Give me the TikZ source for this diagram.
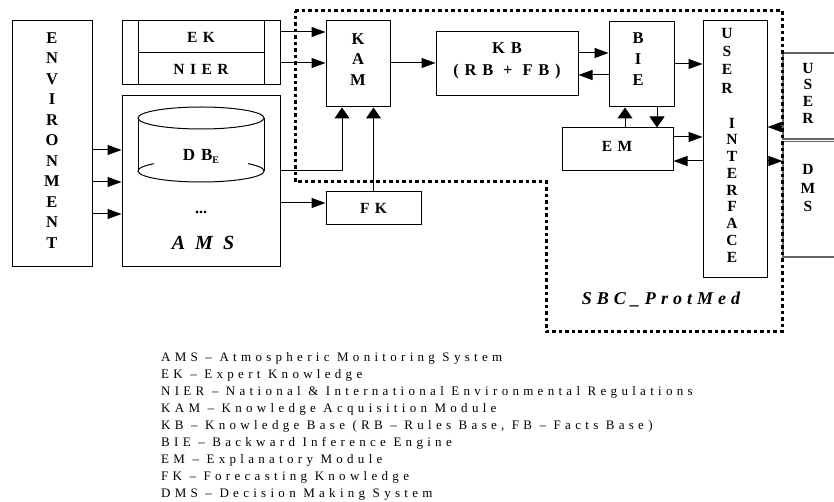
\documentclass[tikz,border=0pt]{standalone}
\usepackage{fontspec}
\setmainfont{Liberation Serif}
\newfontfamily\lsfont[LetterSpace=35]{Liberation Serif}
\newfontfamily\legfont[LetterSpace=33]{Liberation Serif}
\newfontfamily\amsfont[LetterSpace=50]{Liberation Serif}
\newfontfamily\sbcfont[LetterSpace=28]{Liberation Serif}
\usetikzlibrary{arrows.meta,fit,calc}
\tikzset{
  box/.style={draw, line width=1pt, inner sep=0pt},
  gbox/.style={draw=black!60, line width=1.2pt, inner sep=0pt},
  lbl/.style={inner sep=0pt, font={\lsfont\bfseries\fontsize{15.5}{18}\selectfont}},
  stack/.style={inner sep=0pt, align=center, font={\bfseries\fontsize{16.5}{#1}\selectfont}},
  sstack/.style={inner sep=0pt, align=center, font={\bfseries\fontsize{15.5}{#1}\selectfont}},
  ha/.style={-{Triangle[length=14pt,width=10pt]}, line width=1pt},
  va/.style={-{Triangle[length=11pt,width=15pt]}, line width=1pt},
  plain/.style={line width=1pt},
  frame/.style={line width=3pt, dash pattern=on 3.5pt off 3pt},
  leg/.style={inner sep=0pt, anchor=base west, font={\legfont\fontsize{13}{15}\selectfont}}
}
\begin{document}
\begin{tikzpicture}[x=1pt,y=-1pt]
\useasboundingbox (0,0) rectangle (834,502);
\clip (0,0) rectangle (834,502);
% rows and columns
\coordinate (yE1) at (0,150); \coordinate (yE2) at (0,182); \coordinate (yE3) at (0,214);
\coordinate (yEK) at (0,32); \coordinate (yNI) at (0,63);
\coordinate (yDB) at (0,171); \coordinate (yFK) at (0,203);
\coordinate (xA) at (342,0);
\coordinate (yKB1) at (0,53); \coordinate (yKB2) at (0,75);
\coordinate (yBU) at (0,64);
\coordinate (xEM1) at (625,0); \coordinate (xEM2) at (657,0);
\coordinate (yEU1) at (0,137); \coordinate (yEU2) at (0,161);
\coordinate (yUS) at (0,127); \coordinate (yDM) at (0,161);

% boxes
\node[box, fit={(12,21) (92,267)}] (env) {};
\node[stack=20.5] (envt) at (52,140.5) {E\\N\\V\\I\\R\\O\\N\\M\\E\\N\\T};

\node[box, fit={(122,21) (280,85)}] (ekn) {};
\node[box, fit={(138,21) (264,53)}] (ek) {};
\node[box, fit={(138,53) (264,85)}] (nier) {};
\node[lbl] (ekt) at (ek.center) {EK};
\node[lbl] (niert) at (nier.center) {NIER};

\node[box, fit={(122,96) (280,267)}] (ams) {};
\draw[plain] (138,118) -- (138,171) (264,118) -- (264,171);
\draw[plain] (201,118) ellipse [x radius=63, y radius=11];
\draw[plain] (201,171) ellipse [x radius=63, y radius=11];
\node[fill=white, minimum width=94pt, minimum height=24pt, inner sep=0pt,
      font={\lsfont\bfseries\fontsize{17}{20}\selectfont}] (dbe) at (201,156)
      {DB\raisebox{-3pt}{\fontsize{10}{10}\selectfont E}};
\node[inner sep=0pt, font={\bfseries\fontsize{16}{18}\selectfont}] (dots) at (201,212) {...};
\node[inner sep=0pt, font={\amsfont\bfseries\itshape\fontsize{20}{24}\selectfont}] (amst) at (203,243) {AMS};

\node[box, fit={(326,21) (390,107)}] (kam) {};
\node[stack=20.5] (kamt) at (358,59.5) {K\\A\\M};

\node[box, fit={(436,32) (578,96)}] (kb) {};
\node[lbl, align=center, font={\lsfont\bfseries\fontsize{16.5}{22}\selectfont}] (kbt) at (507,61) {KB\\(RB + FB)};

\node[box, fit={(326,192) (421,225)}] (fk) {};
\node[lbl] (fkt) at (fk.center) {FK};

\node[box, fit={(609,22) (674,107)}] (bie) {};
\node[stack=21] (biet) at (638,59) {B\\I\\E};

\node[box, fit={(562,128) (673,171)}] (em) {};
\node[lbl] (emt) at (617,146) {EM};

\node[box, fit={(703,21) (767,278)}] (ui) {};
\node[sstack=18.3] (uit1) at (727,60.5) {U\\S\\E\\R};
\node[sstack=16.75] (uit2) at (732,190) {I\\N\\T\\E\\R\\F\\A\\C\\E};

\node[gbox, fit={(783,53) (850,139)}] (usr) {};
\node[gbox, fit={(783,141.5) (850,257)}] (dms) {};
\node[sstack=16.7] (usrt) at (808,93) {U\\S\\E\\R};
\node[sstack=18.5] (dmst) at (808,188.5) {D\\M\\S};

% connectors
\draw[ha] (env.east |- yE1) -- (ams.west |- yE1);
\draw[ha] (env.east |- yE2) -- (ams.west |- yE2);
\draw[ha] (env.east |- yE3) -- (ams.west |- yE3);
\draw[ha] (ekn.east |- yEK) -- (kam.west |- yEK);
\draw[ha] (ekn.east |- yNI) -- (kam.west |- yNI);
\draw[ha] (kam.east |- yNI) -- (kb.west |- yNI);
\draw[va] (ams.east |- yDB) -| (xA |- kam.south);
\draw[ha] (ams.east |- yFK) -- (fk.west |- yFK);
\draw[va] (fk.north) -- (fk.north |- kam.south);
\draw[ha] (kb.east |- yKB1) -- (bie.west |- yKB1);
\draw[ha] (bie.west |- yKB2) -- (kb.east |- yKB2);
\draw[ha] (bie.east |- yBU) -- (ui.west |- yBU);
\draw[va] (xEM1 |- em.north) -- (xEM1 |- bie.south);
\draw[va] (xEM2 |- bie.south) -- (xEM2 |- em.north);
\draw[ha] (em.east |- yEU1) -- (ui.west |- yEU1);
\draw[ha] (ui.west |- yEU2) -- (em.east |- yEU2);
\draw[ha] (usr.west |- yUS) -- (ui.east |- yUS);
\draw[ha] (ui.east |- yDM) -- (dms.west |- yDM);

% SBC_ProtMed frame
\draw[frame] (295,11) -- (782,11) -- (782,331) -- (546,331) -- (546,182) -- (295,182) -- cycle;
\node[inner sep=0pt, font={\sbcfont\bfseries\itshape\fontsize{18}{20}\selectfont}] (sbc) at (661,300) {SBC\_ProtMed};

% legend
\foreach \t [count=\i] in {
  {AMS – Atmospheric Monitoring System},
  {EK – Expert Knowledge},
  {NIER – National \& International Environmental Regulations},
  {KAM – Knowledge Acquisition Module},
  {KB – Knowledge Base (RB – Rules Base, FB – Facts Base)},
  {BIE – Backward Inference Engine},
  {EM – Explanatory Module},
  {FK – Forecasting Knowledge},
  {DMS – Decision Making System}}
  \node[leg] (leg\i) at (161,{361+17*(\i-1)}) {\t};
\end{tikzpicture}
\end{document}
